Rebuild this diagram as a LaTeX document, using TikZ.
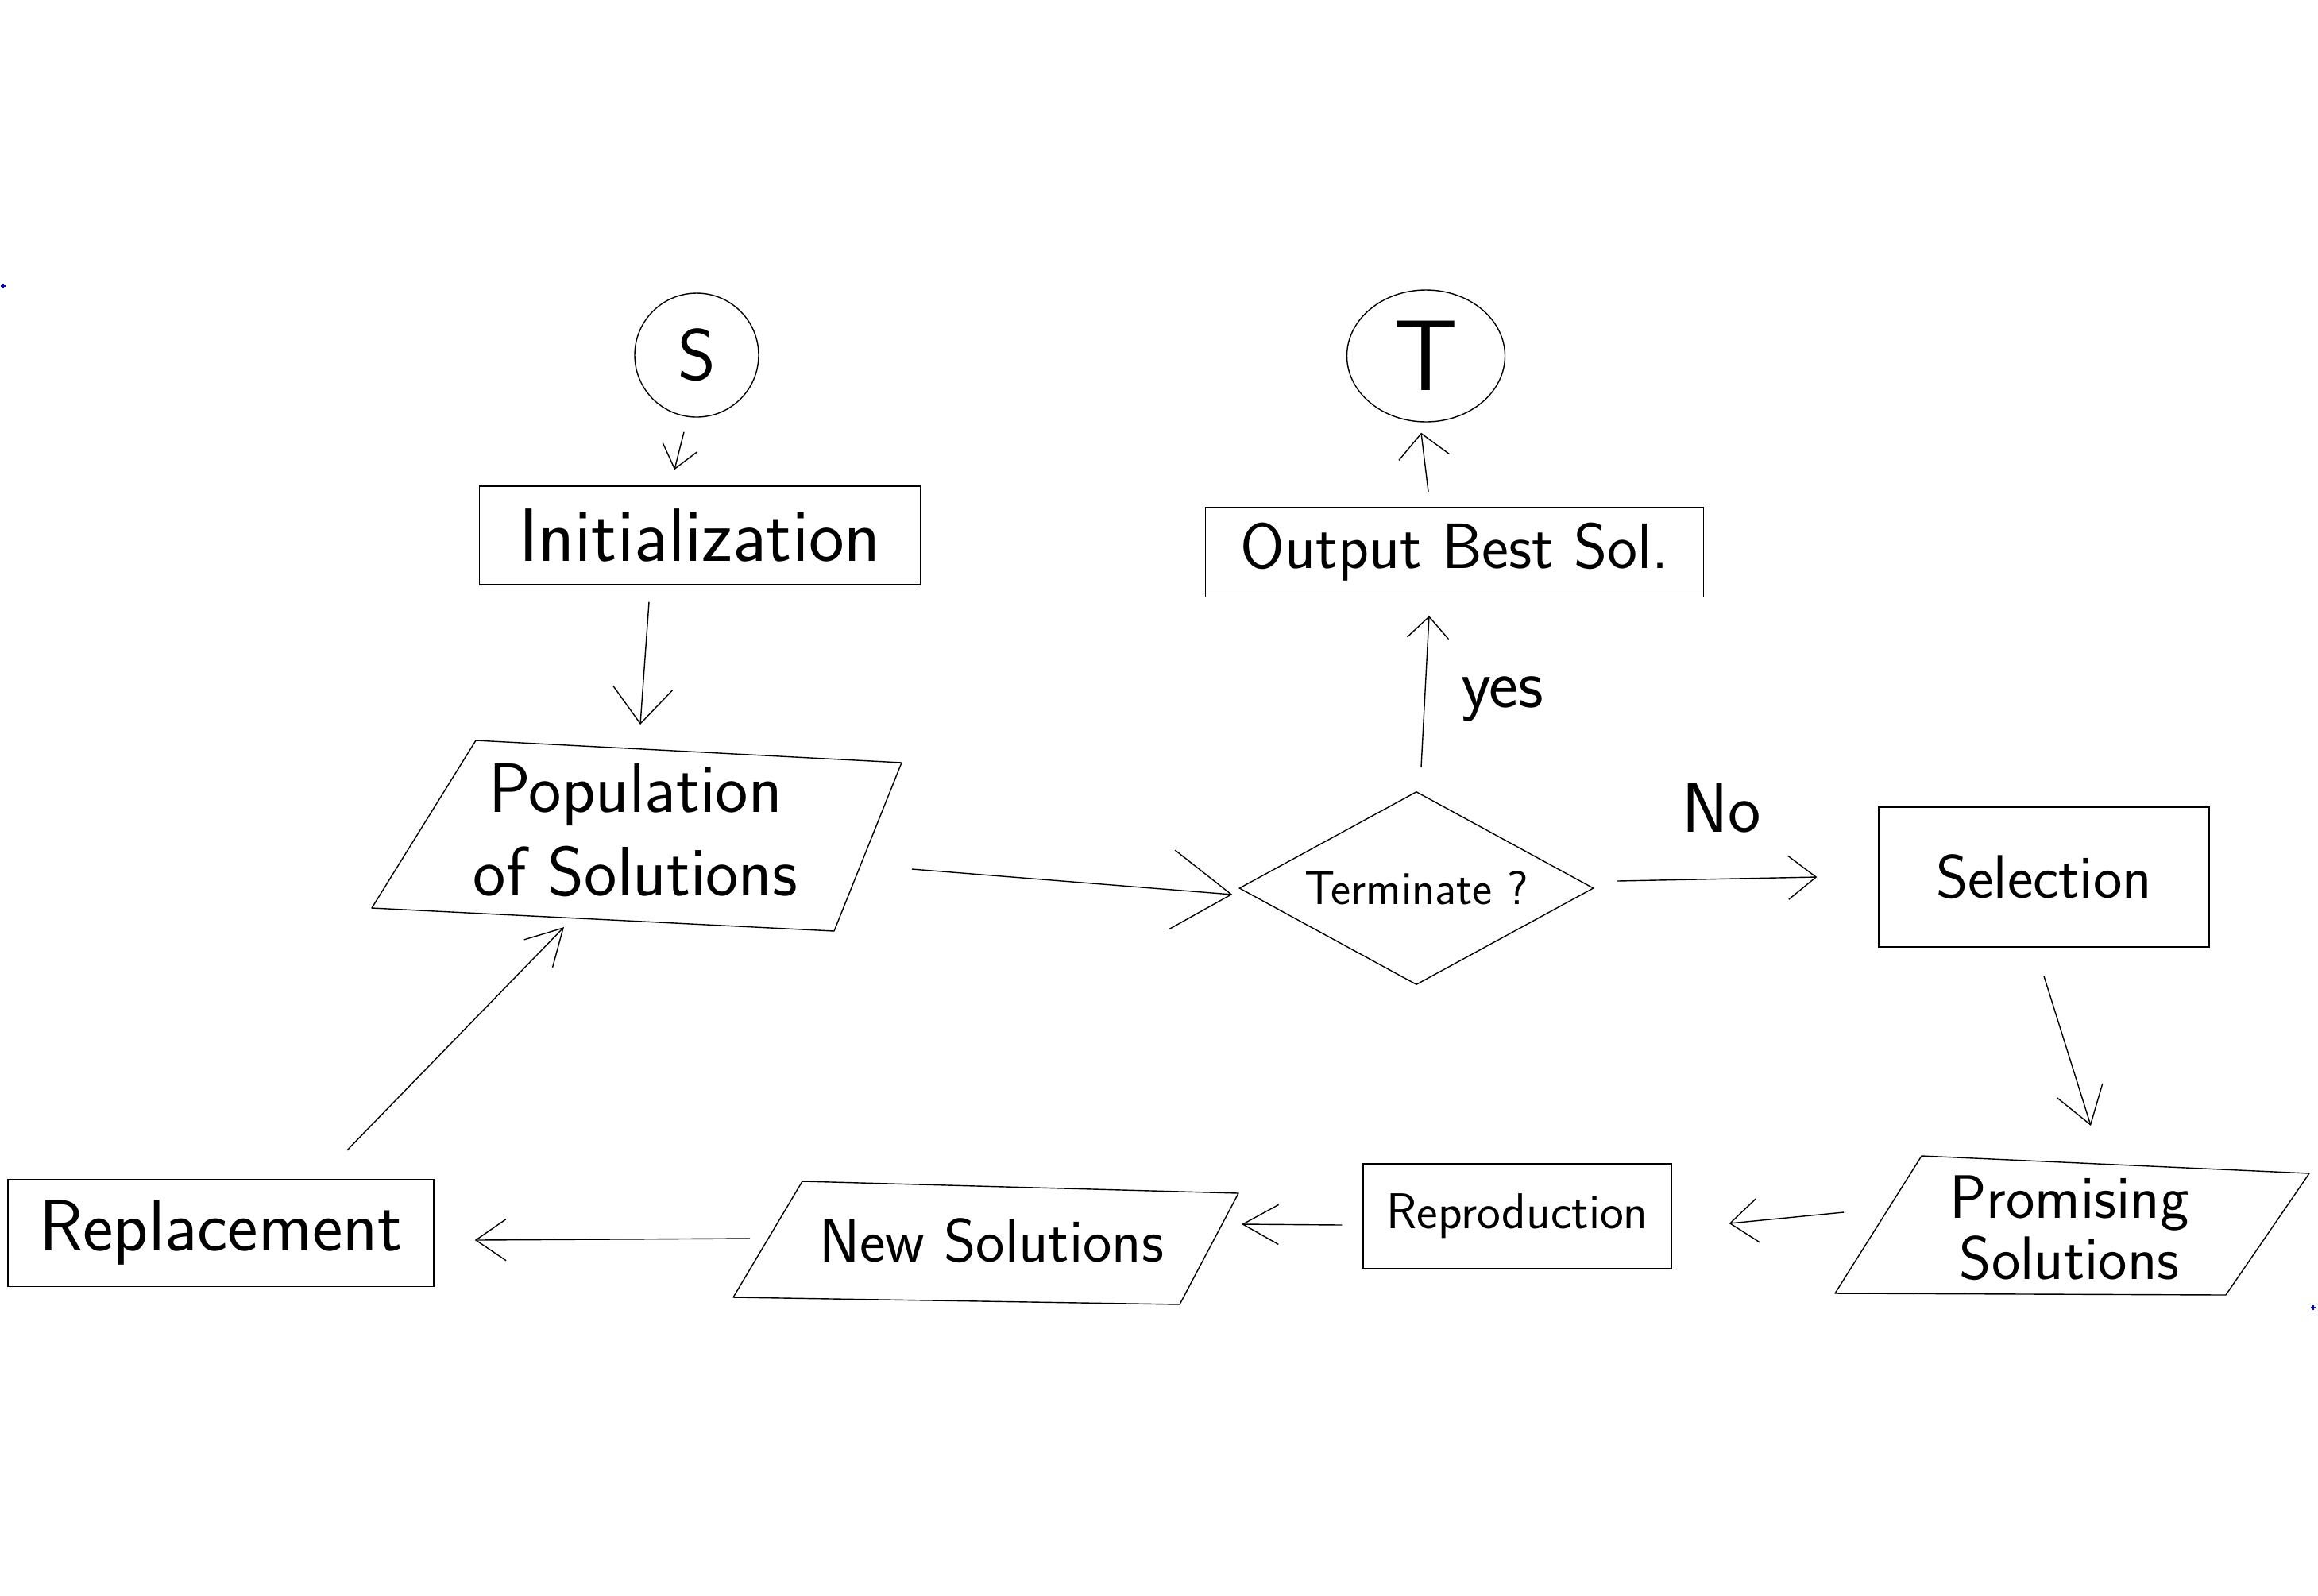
\documentclass[tikz,border=0pt]{standalone}
\usetikzlibrary{arrows.meta,shapes.geometric,calc}
\begin{document}
\begin{tikzpicture}[
  line width=0.4pt,
  fs/.style={font=\sffamily\fontsize{#1}{#1}\selectfont},
  box/.style={draw, rectangle, inner sep=0pt},
  shp/.style={draw, line join=round},
  arr/.style n args={2}{-{Straight Barb[length=#1,width=#2]}},
  regmark/.style={blue, line width=0.5pt}
]
% canvas
\fill[white] (0,0) rectangle (29.18,-20.08);
\useasboundingbox (0,0) rectangle (29.18,-20.08);

% terminals
\node[circle, draw, minimum size=1.56cm, inner sep=0pt, fs=26] (S) at (8.77,-4.47) {S};
\node[ellipse, draw, minimum width=1.99cm, minimum height=1.66cm, inner sep=0pt, fs=36] (T) at (17.95,-4.48) {T};

% process boxes
\node[box, minimum width=5.55cm, minimum height=1.24cm, fs=27] (init) at (8.81,-6.74) {Initialization};
\node[box, minimum width=6.27cm, minimum height=1.13cm, fs=23] (out) at (18.31,-6.95) {Output Best Sol.};
\node[box, minimum width=4.16cm, minimum height=1.76cm, fs=22] (sel) at (25.73,-11.04) {Selection};
\node[box, minimum width=3.88cm, minimum height=1.32cm, fs=18] (rep) at (19.10,-15.31) {Reproduction};
\node[box, minimum width=5.36cm, minimum height=1.35cm, fs=26] (repl) at (2.78,-15.52) {Replacement};

% decision
\node[diamond, draw, minimum width=4.46cm, minimum height=2.43cm, shape aspect=1.84,
      inner sep=0pt, fs=17] (term) at (17.83,-11.18) {Terminate ?};

% data (parallelogram) nodes
\node[fs=25, align=center, inner sep=0pt] (pop) at (8.00,-10.45) {Population\\[5pt]of Solutions};
\node[fs=22, align=center, inner sep=0pt] (newsol) at (12.48,-15.62) {New Solutions};
\node[fs=22, align=center, inner sep=0pt] (prom) at (26.05,-15.46) {Promising\\Solutions};

\draw[shp, shift={(pop)}] (-2.01,1.13) -- (3.35,0.85) -- (2.50,-1.27) -- (-3.32,-0.98) -- cycle;
\draw[shp, shift={(newsol)}] (-2.38,0.75) -- (3.11,0.60) -- (2.37,-0.80) -- (-3.25,-0.71) -- cycle;
\draw[shp, shift={(prom)}] (-1.86,0.91) -- (3.02,0.69) -- (1.97,-0.84) -- (-2.95,-0.82) -- cycle;

% connectors
\draw[arr={0.28cm}{0.45cm}] ([shift={(-0.16,-0.18)}]S.south) -- ([shift={(-0.32,0.20)}]init.north);
\draw[arr={0.45cm}{0.75cm}] ([shift={(-0.64,-0.21)}]init.south) -- ([shift={(0.06,1.33)}]pop.center);
\draw[arr={0.75cm}{1.0cm}] ([shift={(3.48,-0.49)}]pop.center) -- ([shift={(-0.08,-0.08)}]term.west);
\draw[arr={0.27cm}{0.52cm}] ([shift={(0.06,0.30)}]term.north) -- ([shift={(-0.32,-0.23)}]out.south)
  node[pos=0.45, right=0.45cm, fs=25, inner sep=0pt] (yes) {yes};
\draw[arr={0.30cm}{0.64cm}] ([shift={(-0.33,0.19)}]out.north) -- ([shift={(-0.06,-0.13)}]T.south);
\draw[arr={0.35cm}{0.55cm}] ([shift={(0.29,0.09)}]term.east) -- ([shift={(-0.77,0.0)}]sel.west);
\node[fs=25, inner sep=0pt] (no) at (21.67,-10.17) {No};
\draw[arr={0.45cm}{0.60cm}] ([shift={(0.0,-0.36)}]sel.south) -- ([shift={(0.27,1.29)}]prom.center);
\draw[arr={0.35cm}{0.55cm}] ([shift={(-2.84,0.20)}]prom.center) -- ([shift={(0.72,-0.09)}]rep.east);
\draw[arr={0.45cm}{0.50cm}] ([shift={(-0.26,-0.11)}]rep.west) -- ([shift={(3.15,0.21)}]newsol.center);
\draw[arr={0.38cm}{0.52cm}] ([shift={(-3.04,0.03)}]newsol.center) -- ([shift={(0.51,-0.09)}]repl.east);
\draw[arr={0.45cm}{0.50cm}] ([shift={(1.59,0.36)}]repl.north) -- ([shift={(-0.90,-1.22)}]pop.center);

% small registration marks
\draw[regmark] (0.01,-3.60) -- (0.07,-3.60) (0.04,-3.57) -- (0.04,-3.63);
\draw[regmark] (29.09,-16.46) -- (29.15,-16.46) (29.12,-16.43) -- (29.12,-16.49);
\end{tikzpicture}
\end{document}
